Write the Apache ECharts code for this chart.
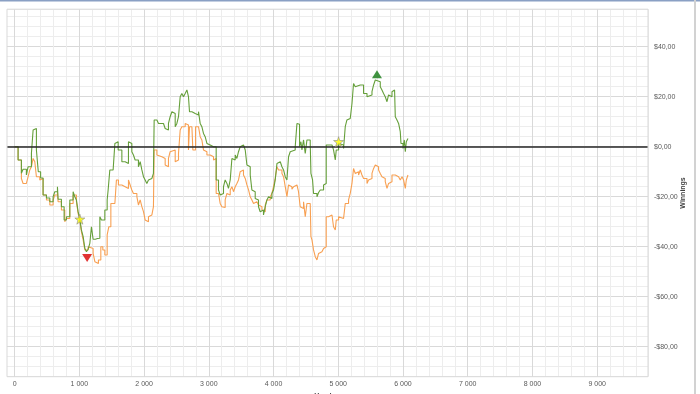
<!DOCTYPE html>
<html><head><meta charset="utf-8">
<script src="https://cdn.jsdelivr.net/npm/echarts@6/dist/echarts.min.js"></script>
<style>html,body{margin:0;padding:0;background:#fff}#c{width:700px;height:394px}</style>
</head><body><div id="c"></div>
<script>
// ---- data ----
const greenHands = [0,54,105,131,182,209,260,286,312,337,356,366,402,440,492,544,595,621,662,672,723,765,801,853,904,930,955,981,1008,1032,1059,1085,1110,1136,1162,1187,1213,1249,1280,1317,1342,1394,1430,1445,1471,1522,1549,1573,1600,1657,1708,1759,1785,1811,1836,1862,1913,1940,1966,1991,2017,2043,2068,2094,2121,2145,2156,2198,2223,2249,2300,2326,2352,2377,2403,2430,2454,2481,2507,2532,2558,2584,2609,2635,2662,2671,2686,2702,2739,2790,2816,2841,2867,2893,2918,2944,2971,2995,3022,3073,3099,3114,3150,3176,3202,3227,3253,3280,3304,3331,3357,3382,3408,3434,3459,3485,3512,3536,3563,3589,3614,3640,3666,3691,3717,3743,3768,3794,3821,3845,3872,3898,3923,3949,3975,4000,4026,4053,4077,4104,4130,4155,4181,4207,4232,4258,4284,4335,4362,4386,4402,4423,4439,4464,4490,4516,4541,4567,4578,4603,4618,4671,4696,4722,4773,4799,4814,4850,4903,4927,4954,4969,5005,5031,5082,5108,5134,5159,5185,5212,5236,5263,5289,5340,5366,5391,5444,5468,5521,5546,5572,5598,5649,5675,5700,5726,5753,5777,5804,5830,5855,5870,5881,5907,5932,5958,5969,6000,6020,6036,6051,6077];
const greenWinnings = [0,-5.3,-10.6,-9,-11.3,-8,-2.6,6.7,7.3,-1.3,-1.3,-10,-12.5,-19.3,-20.5,-22,-20,-18,-16,-21,-24,-29.3,-28,-21.3,-18,-20,-21.3,-26,-29,-33.3,-36,-40.6,-42,-41,-38.7,-32,-37,-36.7,-36.6,-28,-29.3,-25.3,-21.3,-17.3,-9.3,-8.7,1.3,2,-1.3,-6,-6.7,2,1.3,-2,-3.3,-5.3,-8,-6,-9.3,-12,-13.3,-14.7,-13.3,-12.7,-12,-10.7,10.7,10.7,9.3,9.3,9.3,7.3,6.7,9.3,12,14,13.3,8,9.3,12,20,21.3,20,21.3,22.7,22.7,20,14,13.3,13.3,12.7,14,9.3,8,5.3,4,1.3,0.7,0,-0.7,0,-13.3,-17.3,-19.3,-18.7,-16,-13.3,-14.7,-16.7,-13.3,-4.7,-5.3,-3.3,-4.7,-2,0,0.7,0,-1.3,-7.3,-8,-11.3,-17.3,-18,-20.7,-21.3,-24,-26,-25.3,-27.3,-24,-21.3,-20,-20.7,-18.7,-17.3,-13.3,-6.7,-6,-6.7,-8,-9.3,-12,-13.3,-4,-2,-1.3,0,9.3,9,0,2,-1.3,2.7,-2.7,2.7,2.7,1.3,-10.7,-13.3,-18.7,-20,-18.3,-17.3,-15.3,-14.7,0.7,0.7,0,-1.3,-5.3,-1.3,1.3,0.7,-0.7,8,10.7,11.3,12,17.3,25.3,24,24.7,24,24.7,21.3,20,20.7,22,24.7,26.7,26,24,22.7,21.3,20,18,20.7,20,22,22.7,23.3,12,10.7,9.3,6,1.3,-0.7,2.7,-2,2,3.3];
const orangeHands = [0,54,105,131,182,209,235,260,286,312,337,389,414,440,492,544,595,621,662,672,723,775,801,853,904,955,981,1008,1032,1059,1085,1110,1136,1162,1213,1240,1264,1295,1332,1363,1394,1430,1456,1487,1549,1573,1604,1657,1708,1759,1785,1811,1836,1889,1913,1940,1966,1991,2017,2043,2068,2094,2121,2145,2156,2198,2223,2275,2326,2352,2377,2403,2430,2481,2507,2532,2558,2584,2635,2662,2686,2702,2739,2754,2779,2795,2816,2841,2867,2893,2918,2944,2971,3022,3073,3099,3114,3150,3176,3202,3227,3253,3280,3304,3331,3357,3382,3408,3434,3459,3485,3512,3536,3563,3589,3614,3640,3666,3691,3717,3743,3768,3794,3821,3845,3872,3898,3949,3975,4000,4026,4053,4077,4104,4130,4155,4181,4207,4232,4258,4284,4310,4335,4362,4386,4412,4439,4464,4490,4516,4541,4567,4578,4594,4618,4645,4671,4696,4722,4748,4773,4799,4814,4850,4876,4903,4927,4954,4969,5005,5031,5082,5108,5134,5159,5185,5212,5236,5263,5289,5314,5340,5366,5391,5444,5468,5495,5521,5546,5572,5598,5623,5649,5675,5700,5726,5753,5777,5804,5830,5855,5881,5907,5932,5958,5985,6009,6036,6051,6077];
const orangeWinnings = [0,-5.3,-12.7,-14.7,-14,-12,-9.3,-8,-4.7,-6,-12,-13.3,-12.7,-19.3,-21.3,-23.3,-21.3,-19.3,-18,-22,-25.3,-30,-28.7,-22.7,-19.3,-22,-26.7,-29.7,-34,-37.3,-41.3,-41.3,-40,-40.7,-42.7,-46,-46.7,-45.3,-40,-41.3,-43.3,-35.3,-32,-22.7,-22.7,-13.3,-15.3,-16,-16.7,-13.3,-15.3,-17.3,-18.7,-20,-23.3,-21.3,-24,-26,-29.3,-30,-28,-27.3,-26.7,-24,-1.3,-3.3,-4,-4.7,-7.3,-8,-4.7,-2,-1.3,-6,-5.3,-2.7,6.7,8,9.3,8.7,-1.3,8,8,-1.3,-1.3,8,8,8.7,4,2.7,-1.3,-2,-3.3,-4,-5.3,-4.7,-18.7,-19.3,-22.7,-24,-24.3,-21.3,-18.7,-19.3,-17.3,-16,-18,-16,-14.7,-13.3,-10,-9.3,-11.3,-12.7,-15.3,-17.3,-20,-21.3,-22.7,-22,-22.7,-23.3,-24,-25.3,-26,-23.3,-21.3,-20,-18.7,-16,-12.7,-8,-9.3,-9.3,-10.7,-12,-16,-20,-15.3,-16,-17,-16,-15.3,-15.3,-18,-24,-24.7,-22,-28,-22.7,-22.7,-22.7,-36,-37.3,-41.3,-44,-45.3,-42.7,-42,-41.3,-40.7,-40,-28,-28,-27.3,-28,-32,-33.3,-29.3,-28,-28.7,-29.3,-22.7,-22.7,-21.3,-18.7,-14.7,-8.7,-10.7,-10,-11.3,-9.3,-11.3,-12.7,-14.7,-13.3,-12.7,-10.7,-8.7,-7.3,-8,-9.3,-10.7,-12,-12.7,-14,-16.7,-14.7,-14,-11.3,-11.3,-11.3,-12,-12.7,-13.3,-12,-13.3,-16.7,-13.3,-11.3];
const starMarks = [[1008, -29], [5005, 2]];
const lowMark = [[1120, -44.5]];
const highMark = [[5598, 29]];
const xTickLabels = [0,1000,2000,3000,4000,5000,6000,7000,8000,9000];
const yTickLabels = [-80,-60,-40,-20,0,20,40];

const zip = (a, b) => a.map((h, i) => [h, b[i]]);
const minorC = '#ededed', majorC = '#d9d9d9';
const star = 'path://M50,0 L61,35 L98,35 L68,57 L79,91 L50,70 L21,91 L32,57 L2,35 L39,35 Z';

const chart = echarts.init(document.getElementById('c'), null, {renderer: 'canvas'});
chart.setOption({
  animation: false,
  grid: {left: 1.65, right: 52, top: 9.2, bottom: 17.3, containLabel: false, outerBoundsMode: 'none'},
  xAxis: {
    type: 'value', min: -200, max: 9785, interval: 200,
    axisLine: {show: false}, axisTick: {show: false},
    axisLabel: {
      interval: 0, margin: 4, fontSize: 7, color: '#595959', fontFamily: 'Liberation Sans',
      formatter: v => xTickLabels.includes(v) ? (v === 0 ? '0' : (v / 1000) + ' 000') : ''
    },
    splitLine: {show: true, lineStyle: {color: [minorC, majorC, minorC, minorC, minorC], width: 1}},
    name: 'Hands', nameLocation: 'middle', nameGap: 15.5, nameMoveOverlap: false,
    nameTextStyle: {fontSize: 7, fontWeight: 'bold', color: '#404040', fontFamily: 'Liberation Sans'}
  },
  yAxis: {
    type: 'value', position: 'right', min: -92, max: 55, interval: 4,
    axisLine: {show: false}, axisTick: {show: false},
    axisLabel: {
      interval: 0, margin: 6, fontSize: 7, color: '#595959', fontFamily: 'Liberation Sans',
      formatter: v => yTickLabels.includes(v) ? ((v < 0 ? '-$' : '$') + Math.abs(v) + ',00') : ''
    },
    splitLine: {show: true, lineStyle: {color: [minorC, minorC, minorC, majorC, minorC], width: 1}},
    name: 'Winnings', nameLocation: 'middle', nameGap: 32, nameRotate: 90, nameMoveOverlap: false,
    nameTextStyle: {fontSize: 7, fontWeight: 'bold', color: '#404040', fontFamily: 'Liberation Sans'}
  },
  series: [
    {
      type: 'line', step: 'end', data: zip(orangeHands, orangeWinnings), showSymbol: false, symbol: 'none',
      lineStyle: {color: '#f8a052', width: 1.1}, z: 2,
      markLine: {
        silent: true, symbol: ['none', 'none'], label: {show: false},
        lineStyle: {color: '#262626', width: 1.6, type: 'solid'},
        data: [{yAxis: 0}]
      }
    },
    {
      type: 'line', step: 'end', data: zip(greenHands, greenWinnings), showSymbol: false, symbol: 'none',
      lineStyle: {color: '#659f3a', width: 1.1}, z: 3
    },
    {type: 'scatter', data: starMarks, symbol: star, symbolSize: 10, z: 5,
      itemStyle: {color: '#ffff00', borderColor: '#8c8c8c', borderWidth: 0.8}},
    {type: 'scatter', data: lowMark, symbol: 'triangle', symbolSize: [10, 8], symbolRotate: 180, z: 5,
      itemStyle: {color: '#d90000'}},
    {type: 'scatter', data: highMark, symbol: 'triangle', symbolSize: [10, 8], z: 5,
      itemStyle: {color: '#127812'}}
  ],
  graphic: [
    {type: 'rect', z: 100, shape: {x: 0, y: 0, width: 7, height: 394}, style: {fill: '#ffffff'}},
    {type: 'rect', z: 101, shape: {x: 7, y: 9.2, width: 641, height: 367.5}, style: {fill: 'none', stroke: '#d9d9d9', lineWidth: 1}},
    {type: 'rect', z: 102, shape: {x: 0, y: 0, width: 700, height: 1.5}, style: {fill: '#8aa0c4'}},
    {type: 'rect', z: 102, shape: {x: 694, y: 0, width: 2, height: 394}, style: {fill: '#d2d2d2'}}
  ]
});
</script></body></html>
